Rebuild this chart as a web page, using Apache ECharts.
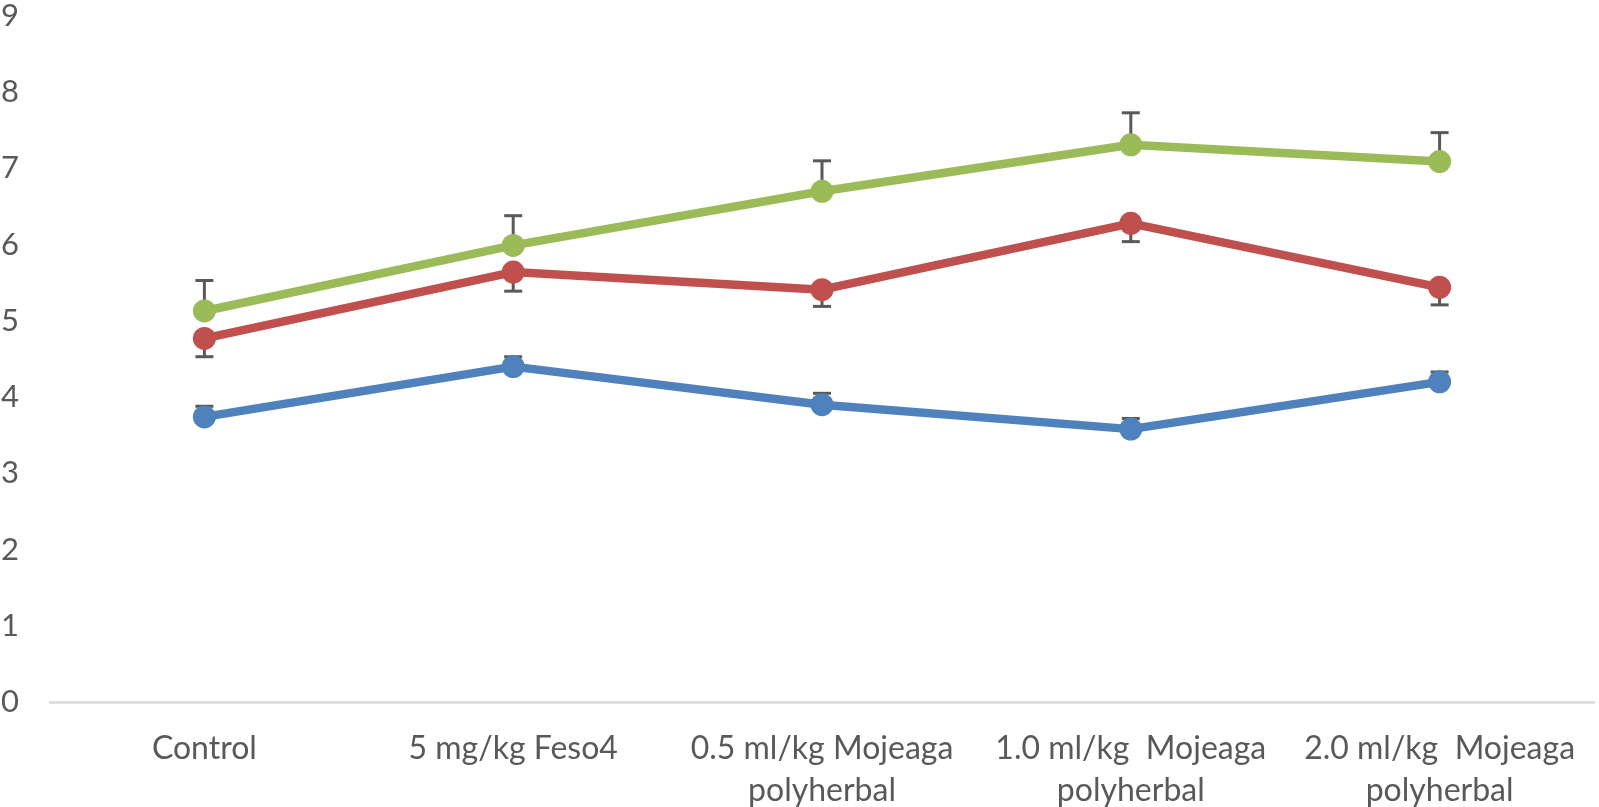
<!DOCTYPE html>
<html>
<head>
<meta charset="utf-8">
<script src="https://cdn.jsdelivr.net/npm/echarts@6/dist/echarts.min.js"></script>
<style>
html,body{margin:0;padding:0;background:#fff;}
#chart{width:1599px;height:807px;}
</style>
</head>
<body>
<div id="chart"></div>
<script>
var categories = ['Control', '5 mg/kg Feso4', '0.5 ml/kg Mojeaga\npolyherbal', '1.0 ml/kg  Mojeaga\npolyherbal', '2.0 ml/kg  Mojeaga\npolyherbal'];
var yTicks = [0, 1, 2, 3, 4, 5, 6, 7, 8, 9];
var blueValues = [3.74, 4.40, 3.90, 3.58, 4.20];
var blueErr = [0.14, 0.13, 0.15, 0.14, 0.13];
var redValues = [4.77, 5.64, 5.41, 6.28, 5.44];
var redErr = [0.24, 0.25, 0.22, 0.24, 0.23];
var greenValues = [5.13, 5.99, 6.70, 7.31, 7.09];
var greenErr = [0.40, 0.39, 0.40, 0.42, 0.38];

var FONT = 'Lato';
var chart = echarts.init(document.getElementById('chart'));

function errData(vals, errs) {
  return vals.map(function (v, i) { return [i, v, errs[i]]; });
}
function errSeries(vals, errs, dir) {
  return {
    type: 'custom',
    z: 1,
    silent: true,
    data: errData(vals, errs),
    renderItem: function (params, api) {
      var i = api.value(0), v = api.value(1), e = api.value(2);
      var p0 = api.coord([i, v]);
      var p1 = api.coord([i, v + dir * e]);
      var hw = 9;
      var st = { stroke: '#595959', lineWidth: 3 };
      return {
        type: 'group',
        children: [
          { type: 'line', shape: { x1: p0[0], y1: p0[1], x2: p1[0], y2: p1[1] }, style: st },
          { type: 'line', shape: { x1: p1[0] - hw, y1: p1[1], x2: p1[0] + hw, y2: p1[1] }, style: st }
        ]
      };
    }
  };
}
function lineSeries(vals, color) {
  return {
    type: 'line',
    z: 3,
    data: vals,
    symbol: 'circle',
    symbolSize: 23,
    lineStyle: { color: color, width: 8.5 },
    itemStyle: { color: color },
    animation: false
  };
}

chart.setOption({
  animation: false,
  grid: { left: 50, right: 5, top: 16, bottom: 105, containLabel: false, outerBoundsMode: 'none' },
  xAxis: {
    type: 'category',
    data: categories,
    axisLine: { lineStyle: { color: '#D9D9D9', width: 2.5 } },
    axisTick: { show: false },
    axisLabel: {
      interval: 0,
      margin: 26,
      color: '#595959',
      fontFamily: FONT,
      fontSize: 32,
      lineHeight: 42
    }
  },
  yAxis: {
    type: 'value',
    min: yTicks[0],
    max: yTicks[yTicks.length - 1],
    interval: 1,
    splitLine: { show: false },
    axisLine: { show: false },
    axisTick: { show: false },
    axisLabel: {
      margin: 31,
      color: '#595959',
      fontFamily: FONT,
      fontSize: 31
    }
  },
  series: [
    errSeries(blueValues, blueErr, 1),
    errSeries(redValues, redErr, -1),
    errSeries(greenValues, greenErr, 1),
    lineSeries(blueValues, '#4F81BD'),
    lineSeries(redValues, '#C0504D'),
    lineSeries(greenValues, '#9BBB59')
  ]
});
</script>
</body>
</html>
